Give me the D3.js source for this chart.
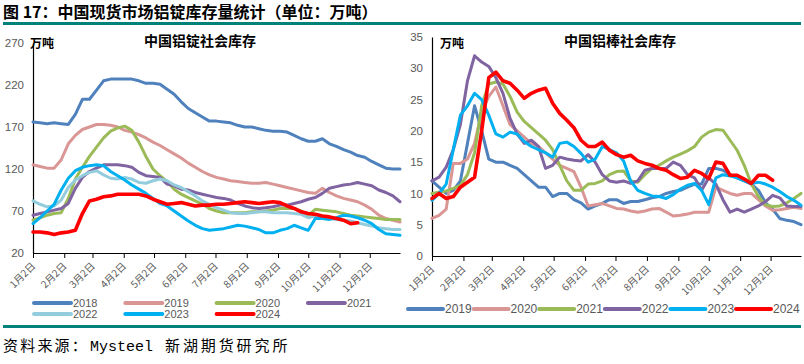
<!DOCTYPE html>
<html><head><meta charset="utf-8">
<script src="https://cdn.jsdelivr.net/npm/d3@7"></script>
<style>
body{margin:0;background:#fff;}
svg{display:block;font-family:"Liberation Sans",Arial,sans-serif;}
</style></head>
<body><svg id="c" width="804" height="364"></svg>
<script>
// ---- data ----
const weeks = [0,7,14,21,28,35,42,49,56,63,70,77,84,91,98,105,112,119,126,133,140,147,154,161,168,175,182,189,196,203,210,217,224,231,238,245,252,259,266,273,280,287,294,301,308,315,322,329,336,343,350,357,364];
const tickDays = [0,31,59,90,120,151,181,212,243,273,304,334];
const tickLabels = ["1月2日","2月2日","3月2日","4月2日","5月2日","6月2日","7月2日","8月2日","9月2日","10月2日","11月2日","12月2日"];
const ingotTicks = [20,70,120,170,220,270];
const rodTicks = [0,5,10,15,20,25,30,35];

const ingotYears = ["2018","2019","2020","2021","2022","2023","2024"];
const ingotColors = ["#4F81BD","#D99694","#9BBB59","#8064A2","#93CDDD","#00B0F0","#FF0000"];
const ingot2018 = [176,175,174,175,174,173,185,203,203,214,225,227,227,227,227,225,222,222,221,215,209,200,192,187,182,177,177,176,175,172,170,170,168,166,165,165,164,160,156,153,153,156,150,147,143,140,136,134,129,125,121,120,120];
const ingot2019 = [125,123,121,121,131,150,160,167,170,173,173,172,170,166,164,161,157,152,148,143,138,133,127,122,117,113,110,108,106,105,104,103,103,104,102,100,98,96,94,92,91,97,92,88,85,83,81,77,72,65,61,59,57];
const ingot2020 = [59,62,65,67,68,85,108,122,135,146,157,165,169,171,166,152,135,120,112,105,96,90,86,82,78,73,70,68,68,68,68,69,69,70,71,73,73,73,70,65,72,71,70,69,67,65,64,63,62,61,60,60,60];
const ingot2021 = [65,67,69,71,73,79,97,110,117,121,125,125,125,124,122,116,112,111,110,102,100,96,95,92,90,88,86,85,83,79,76,74,73,74,75,77,77,79,81,84,86,91,97,99,101,102,104,102,100,95,92,88,81];
const ingot2022 = [82,78,75,76,83,98,107,112,116,118,113,109,108,110,108,104,103,106,108,106,101,98,93,88,82,78,74,71,68,67,67,68,69,69,68,68,68,67,66,62,64,63,61,60,59,58,56,54,52,50,49,48,48];
const ingot2023 = [55,62,70,78,95,109,118,122,124,125,124,117,112,107,101,96,91,85,79,76,70,64,58,53,49,47,48,49,51,53,52,50,48,44,44,47,49,53,50,47,61,61,60,62,65,64,62,59,55,48,43,42,41];
const ingot2024 = [45,45,44,42,44,45,47,67,82,84,87,88,90,90,90,90,88,84,81,78,79,80,78,76,77,77,78,78,79,80,81,80,79,80,81,80,76,73,69,67,66,64,63,61,59,55,56];

const rodYears = ["2019","2020","2021","2022","2023","2024"];
const rodColors = ["#4F81BD","#D99694","#9BBB59","#8064A2","#00B0F0","#FF0000"];
const rod2019 = [12,11,10,10.5,12,18,24,20,15.5,15,15,14.5,14,13,12,11,11,9.5,10,10,9,8.5,7.5,8,8.4,9,9,8.4,8.7,8.7,9,9.3,9.5,10,10.3,10.5,11,11.5,11.5,14,14,13.7,13,12.5,12,11.5,10.5,8.5,7.5,6,5.7,5.5,5];
const rod2020 = [6,6.5,7.5,14.8,14.8,15.5,18,23,25.5,27,24,21,20,19,18,17.5,16.5,15.5,14.5,14,13.5,11,8,8.2,8.4,8,7.6,7.5,7.2,7,7.2,7.5,7.6,7,6.4,6.5,6.7,7,7,7,11,10.5,10,9.7,10,10,9,8,7.3,7.4,7.6,7.8,7.6];
const rod2021 = [10,10.2,10.4,10.8,11.3,13,16.5,24,27.5,27.8,27.5,25.5,23,21.5,20.5,19.5,18.5,17,14.5,12,10.5,10.5,11.5,11.6,12,13,13.5,13.6,12,11.8,13,14,14.5,15.2,15.8,16.3,16.8,17.5,19,19.8,20.2,20.1,18.5,16.9,14.5,11.5,9.5,8.2,7.9,8,8.5,9.2,10];
const rod2022 = [12,12.6,14.2,17,21,28,32,31,30.3,28.5,26,22,19.5,18,18.5,17.5,14,14.5,15.8,15.5,15.3,15.2,16.2,15,13,12,11.8,12,11.6,12,13.7,14,14,14,15,14.5,13,12.5,10.5,12.5,11.5,9,7,7.5,7,7.5,8,8.7,9.7,9.3,8,7.9,7.9];
const rod2023 = [8.9,10,11.5,17,22.5,24,26,25,22.5,19.5,19,19.8,19.5,18.3,17.5,17,16.5,15.8,18,18.2,17.5,16.4,15,15.5,17.5,17,16.5,15.2,12,10.5,10,9.6,9.5,9.2,9.8,10.7,11.3,11.6,10.5,8.2,12.5,13,12.8,12.5,12,11.6,11.8,11.5,11,10.3,9.5,8.9,8.1];
const rod2024 = [9.2,10,9.2,9.5,11,11.8,12.6,20,28.5,29.4,28,27.6,26.5,25.2,26,26.5,26.8,24.4,22.8,21.7,20.5,18.5,17.5,17.5,18.2,16.9,16.2,15.8,16.1,15.2,14.8,14.5,14,13.7,13,12.4,12.6,13.7,13.2,12.4,15,14.8,12.9,12.9,12.3,11.6,12.9,12.9,12.1];

const ingotSeries = [ingot2018,ingot2019,ingot2020,ingot2021,ingot2022,ingot2023,ingot2024];
const rodSeries = [rod2019,rod2020,rod2021,rod2022,rod2023,rod2024];

// ---- drawing ----
const svg = d3.select("#c");
const TEAL = "#00817C";
const GREY = "#595959";
const CJK = '"Noto Sans CJK SC","Noto Sans",sans-serif';

svg.append("text").attr("x",3).attr("y",18)
  .attr("font-family",CJK).attr("font-weight","bold").attr("font-size",16)
  .attr("fill","#000").text("图 17：中国现货市场铝锭库存量统计（单位：万吨）");
svg.append("rect").attr("x",3).attr("y",22).attr("width",798).attr("height",3).attr("fill",TEAL);
svg.append("rect").attr("x",3).attr("y",325).attr("width",798).attr("height",3).attr("fill",TEAL);
svg.append("text").attr("x",3).attr("y",351)
  .attr("font-family",CJK).attr("font-size",15).attr("letter-spacing",2.2)
  .attr("fill","#000").text("资料来源：");
svg.append("text").attr("x",90).attr("y",351)
  .attr("font-family",'"Liberation Mono","DejaVu Sans Mono",monospace').attr("font-size",15)
  .attr("fill","#000").text("Mysteel");
svg.append("text").attr("x",165).attr("y",351)
  .attr("font-family",CJK).attr("font-size",15).attr("letter-spacing",2.9)
  .attr("fill","#000").text("新湖期货研究所");

function panel(o){
  const g = svg.append("g");
  const x = d3.scaleLinear().domain([0,364]).range([o.x0,o.x1]);
  const y = d3.scaleLinear().domain(o.yDomain).range([o.yBottom,o.yTop]);
  // y axis
  const ya = g.append("g").attr("transform",`translate(${o.x0},0)`)
    .call(d3.axisLeft(y).tickValues(o.yTicks).tickSize(0).tickPadding(o.yPad));
  ya.select(".domain").attr("stroke","#000").attr("stroke-width",1.2);
  ya.selectAll("text").attr("font-size",11.5).attr("fill",GREY).attr("font-family",'"Liberation Sans",Arial,sans-serif');
  // x axis
  const xa = g.append("g").attr("transform",`translate(0,${o.yBottom})`)
    .call(d3.axisBottom(x).tickValues(tickDays).tickFormat((d,i)=>tickLabels[i]).tickSizeInner(5).tickSizeOuter(0));
  xa.select(".domain").attr("stroke","#000").attr("stroke-width",1.2);
  xa.selectAll(".tick line").attr("stroke","#000");
  xa.selectAll("text").attr("font-family",CJK).attr("font-size",10).attr("fill",GREY)
    .attr("transform","rotate(-45)").attr("text-anchor","end").attr("x",-8).attr("y",8).attr("dy","0.35em");
  // titles
  g.append("text").attr("x",o.titleX).attr("y",46).attr("text-anchor","middle")
    .attr("font-family",CJK).attr("font-weight","bold").attr("font-size",14).text(o.title);
  g.append("text").attr("x",o.unitX).attr("y",48)
    .attr("font-family",CJK).attr("font-weight","bold").attr("font-size",12).text("万吨");
  // lines
  const line = d3.line().x((d,i)=>x(weeks[i])).y(d=>y(d));
  o.series.forEach((s,k)=>{
    g.append("path").datum(s).attr("d",line).attr("fill","none")
      .attr("stroke",o.colors[k]).attr("stroke-width",o.names[k]==="2024"?3.6:3)
      .attr("stroke-linejoin","round").attr("stroke-linecap","round");
  });
  // legend
  o.names.forEach((n,k)=>{
    const lx = o.legX + (k % o.legCols)*o.legStep;
    const ly = o.legY + Math.floor(k / o.legCols)*11;
    g.append("line").attr("x1",lx).attr("x2",lx+o.swatch).attr("y1",ly).attr("y2",ly)
      .attr("stroke",o.colors[k]).attr("stroke-width",4).attr("stroke-linecap","round");
    g.append("text").attr("x",lx+o.swatch+2).attr("y",ly).attr("dy","0.36em")
      .attr("font-size",o.legFont).attr("fill",GREY).text(n);
  });
}

panel({x0:33,x1:400,yTop:43,yBottom:253,yDomain:[20,270],yTicks:ingotTicks,yPad:9,
  title:"中国铝锭社会库存",titleX:200,unitX:30,series:ingotSeries,colors:ingotColors,names:ingotYears,
  legX:34,legY:303,legStep:91.3,legCols:4,swatch:37,legFont:11});
panel({x0:432,x1:801,yTop:37,yBottom:256,yDomain:[0,35],yTicks:rodTicks,yPad:9,
  title:"中国铝棒社会库存",titleX:620,unitX:440,series:rodSeries,colors:rodColors,names:rodYears,
  legX:408,legY:309,legStep:65.6,legCols:6,swatch:35,legFont:12});
</script></body></html>
